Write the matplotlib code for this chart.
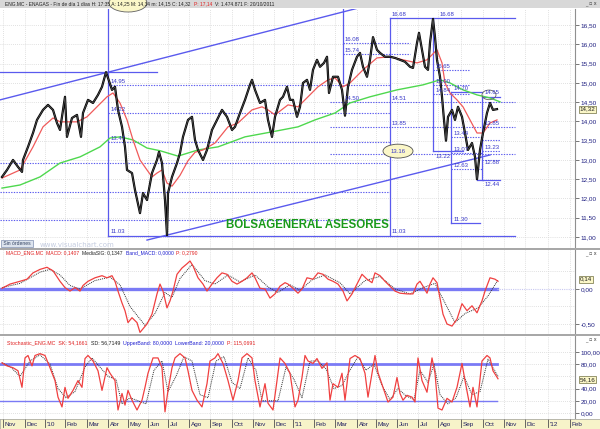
import matplotlib
matplotlib.use("Agg")
import matplotlib.pyplot as plt
from matplotlib.patches import Ellipse, Rectangle

# x values are bar numbers (one trading day per bar, Nov 2009 .. Oct 2011)
price_bar = [2, 7, 13, 18, 22, 23, 28, 33, 37, 43, 48, 53, 57, 60, 63, 65, 67, 72, 77, 81,
             83, 88, 93, 98, 102, 106, 108, 112, 115, 118, 122, 125, 127, 132, 135, 140, 143, 147, 152, 157,
             159, 162, 165, 167, 168, 172, 177, 180, 183, 188, 192, 195, 198, 203, 207, 212, 217, 222, 227, 232,
             235, 240, 245, 250, 252, 255, 260, 265, 268, 272, 275, 280, 283, 287, 290, 293, 297, 300, 303, 307,
             310, 313, 317, 320, 324, 327, 329, 333, 338, 342, 345, 348, 352, 357, 360, 363, 367, 370, 373, 377,
             380, 385, 390, 395, 400, 405, 410, 413, 417, 419, 422, 425, 428, 430, 433, 435, 437, 440, 442, 444,
             446, 448, 452, 455, 458, 462, 465, 468, 472, 475, 477, 480, 483, 487, 490, 493, 497]
price_close = [12.56, 12.74, 13.00, 12.82, 12.69, 13.00, 13.34, 13.70, 14.04, 14.30, 14.43, 14.30, 13.96, 13.78, 14.30, 14.64, 13.60, 14.09, 14.17, 13.60,
               14.22, 14.56, 14.48, 14.69, 14.90, 15.28, 15.13, 14.82, 14.90, 14.30, 13.86, 13.34, 12.74, 12.66, 12.22, 11.62, 12.14, 11.96, 12.66, 13.00,
               13.21, 12.92, 11.96, 11.05, 12.14, 12.56, 12.92, 13.18, 13.60, 14.04, 14.12, 13.52, 13.26, 13.00, 13.26, 13.78, 14.04, 14.30, 14.12, 13.78,
               13.86, 14.22, 14.56, 14.95, 15.08, 14.82, 14.48, 14.56, 14.04, 13.60, 14.12, 14.56, 14.64, 14.90, 14.56, 14.56, 14.12, 14.38, 15.00, 15.08,
               14.82, 15.34, 15.60, 15.42, 15.52, 15.68, 14.74, 15.16, 15.16, 14.82, 14.15, 14.90, 15.34, 15.68, 15.78, 15.42, 15.16, 15.60, 16.19, 15.86,
               15.78, 15.68, 15.68, 15.65, 15.60, 15.55, 15.42, 15.39, 16.04, 16.30, 15.86, 15.42, 15.34, 16.04, 16.66, 16.19, 15.60, 15.16, 14.64, 14.04,
               13.50, 14.12, 14.30, 14.04, 14.38, 14.12, 13.70, 13.26, 13.44, 13.08, 12.50, 13.26, 13.70, 14.22, 14.48, 14.30, 14.32]

red_bar = [2, 20, 33, 43, 53, 60, 67, 77, 87, 97, 107, 113, 120, 127, 133, 140, 147, 152, 157, 162,
           167, 172, 180, 188, 195, 203, 215, 228, 238, 252, 262, 268, 275, 288, 298, 308, 318, 328, 335, 343,
           350, 363, 377, 390, 403, 417, 427, 437, 442, 445, 450, 457, 463, 470, 477, 483, 490, 497]
red_ma = [12.53, 12.74, 13.34, 13.86, 14.09, 13.99, 13.99, 13.99, 14.12, 14.38, 14.64, 14.74, 14.48, 14.04, 13.52, 13.00, 12.74, 12.56, 12.66, 12.74,
          12.40, 12.32, 12.60, 12.98, 13.20, 13.26, 13.44, 13.86, 13.96, 14.30, 14.38, 14.30, 14.17, 14.43, 14.38, 14.64, 14.90, 15.08, 15.13, 14.90,
          15.00, 15.34, 15.65, 15.68, 15.60, 15.52, 15.60, 15.86, 15.52, 15.00, 14.74, 14.56, 14.38, 14.04, 13.70, 13.70, 13.96, 14.04]

green_bar = [2, 20, 40, 60, 80, 100, 110, 120, 133, 147, 160, 178, 198, 218, 245, 272, 298, 315, 335, 350,
             370, 397, 423, 440, 450, 463, 477, 490, 500]
green_ma = [12.27, 12.35, 12.56, 12.92, 13.08, 13.34, 13.57, 13.60, 13.52, 13.31, 13.24, 13.10, 13.26, 13.34, 13.60, 13.73, 13.86, 14.04, 14.22, 14.48,
            14.64, 14.82, 14.95, 15.08, 15.00, 14.82, 14.69, 14.61, 14.51]

macd_bar = [2, 10, 20, 27, 33, 40, 47, 53, 60, 65, 70, 75, 80, 83, 88, 95, 102, 107, 112, 115,
            118, 122, 125, 128, 132, 137, 140, 147, 152, 157, 160, 163, 167, 170, 173, 177, 182, 187, 190, 193,
            198, 203, 207, 212, 217, 222, 227, 232, 237, 242, 247, 252, 255, 260, 265, 270, 275, 280, 285, 288,
            293, 298, 302, 307, 313, 318, 323, 328, 333, 338, 343, 347, 352, 357, 362, 367, 372, 375, 380, 385,
            390, 395, 400, 407, 413, 417, 420, 423, 427, 430, 433, 437, 440, 443, 447, 452, 457, 462, 467, 472,
            477, 482, 485, 490, 495, 498]
macd_line = [0.01, 0.07, 0.11, 0.14, 0.23, 0.28, 0.31, 0.26, 0.11, 0.02, -0.03, 0.02, -0.03, 0.05, 0.11, 0.16, 0.19, 0.16, 0.19, 0.11,
             -0.03, -0.20, -0.31, -0.48, -0.41, -0.48, -0.62, -0.50, -0.36, -0.07, 0.07, -0.03, -0.27, -0.17, -0.03, 0.21, 0.30, 0.36, 0.40, 0.33,
             0.16, 0.07, -0.03, 0.07, 0.16, 0.23, 0.21, 0.11, 0.07, 0.11, 0.16, 0.23, 0.16, 0.01, 0.00, -0.13, -0.07, 0.04, 0.09, 0.07,
             0.01, -0.06, 0.00, 0.16, 0.14, 0.23, 0.21, 0.14, 0.11, 0.07, -0.03, -0.17, -0.07, 0.07, 0.21, 0.14, 0.09, 0.23, 0.19, 0.11,
             0.04, -0.03, -0.06, -0.07, -0.07, 0.07, 0.11, 0.04, -0.06, 0.07, 0.16, 0.09, -0.13, -0.36, -0.50, -0.53, -0.43, -0.21, -0.31, -0.24,
             -0.34, -0.17, -0.03, 0.16, 0.14, 0.11]

signal_bar = [2, 20, 40, 50, 60, 70, 80, 95, 110, 120, 130, 145, 155, 165, 172, 180, 192, 205, 215, 228,
              240, 255, 268, 278, 290, 300, 312, 325, 340, 350, 365, 380, 395, 410, 425, 435, 445, 455, 465, 478,
              488, 498]
signal_line = [0.02, 0.08, 0.24, 0.28, 0.20, 0.05, 0.00, 0.12, 0.17, 0.06, -0.25, -0.52, -0.35, -0.05, -0.12, 0.15, 0.35, 0.12, 0.07, 0.20,
               0.10, 0.20, 0.03, -0.05, 0.06, -0.02, 0.13, 0.20, 0.09, -0.07, 0.12, 0.18, 0.00, -0.07, 0.03, 0.08, -0.20, -0.48, -0.35, -0.27,
               -0.10, 0.13]

stoch_bar = [2, 7, 13, 18, 22, 25, 28, 32, 35, 40, 45, 50, 55, 58, 62, 65, 68, 73, 78, 82,
             85, 88, 93, 98, 102, 107, 110, 115, 118, 122, 125, 128, 132, 137, 142, 145, 148, 153, 158, 162,
             165, 168, 172, 175, 180, 185, 188, 192, 197, 202, 207, 210, 215, 218, 223, 228, 233, 238, 242, 247,
             252, 255, 260, 265, 268, 273, 277, 280, 285, 290, 295, 298, 302, 305, 308, 313, 317, 322, 327, 330,
             333, 338, 342, 345, 350, 355, 360, 365, 368, 372, 375, 378, 383, 388, 393, 397, 400, 403, 407, 412,
             415, 418, 422, 427, 432, 435, 438, 442, 447, 452, 457, 462, 465, 470, 473, 477, 482, 487, 490, 493,
             498]
stoch_k = [82, 77, 74, 69, 42, 90, 94, 77, 94, 97, 94, 74, 53, 26, 10, 42, 24, 37, 53, 42,
           89, 94, 85, 69, 37, 74, 65, 53, 5, 32, 13, 37, 21, 5, 21, 42, 65, 90, 90, 74,
           2, 37, 74, 90, 97, 90, 69, 37, 21, 10, 48, 85, 90, 97, 81, 53, 21, 53, 90, 97,
           90, 53, 10, 48, 16, 5, 53, 90, 81, 65, 10, 21, 58, 94, 85, 81, 89, 73, 82, 21,
           48, 42, 65, 21, 89, 94, 89, 65, 26, 65, 94, 66, 42, 18, 26, 58, 32, 21, 29, 26,
           18, 90, 53, 34, 90, 65, 8, 5, 24, 18, 42, 81, 53, 10, 42, 10, 85, 94, 90, 69,
           56]

stoch_d_bar = [2, 10, 20, 30, 40, 50, 58, 66, 75, 85, 92, 100, 108, 116, 122, 130, 138, 146, 154, 162,
               168, 176, 184, 192, 200, 208, 216, 224, 232, 240, 248, 256, 262, 270, 278, 286, 294, 302, 310, 318,
               326, 334, 342, 350, 358, 366, 374, 382, 390, 398, 406, 414, 420, 428, 434, 440, 448, 456, 464, 472,
               480, 488, 498]
stoch_d = [82, 76, 60, 85, 95, 80, 40, 25, 35, 75, 90, 75, 60, 55, 15, 25, 20, 15, 70, 85,
           35, 60, 92, 85, 30, 25, 85, 92, 50, 40, 90, 70, 20, 20, 20, 75, 55, 25, 85, 85,
           72, 40, 45, 70, 92, 70, 80, 45, 22, 40, 28, 22, 70, 50, 80, 30, 15, 25, 60, 30,
           35, 88, 60]

month_bar = [3, 25, 45, 65, 87, 108, 128, 148, 168, 189, 210, 232, 253, 274, 293, 314,
             335, 357, 376, 397, 418, 438, 461, 483, 504, 525, 548, 570]
month_label = ["Nov", "Dec", "'10", "Feb", "Mar", "Abr", "May", "Jun", "Jul", "Ago", "Sep", "Oct", "Nov", "Dec",
               "'11", "Feb", "Mar", "Abr", "May", "Jun", "Jul", "Ago", "Sep", "Oct", "Nov", "Dic", "'12", "Feb"]

price_ticks = [11.0, 11.5, 12.0, 12.5, 13.0, 13.5, 14.0, 14.5, 15.0, 15.5, 16.0, 16.5]
macd_ticks = [-0.5, 0.0]
stoch_ticks = [0, 20, 40, 80, 100]

BLUE = "#5a5aee"
LABEL_BLUE = "#3838c8"
AXIS_TEXT = "#1e1e80"
GRID = "#d6d6d6"
FONT = "Liberation Sans"
W, H = 600, 429


def box(x0, y0, x1, y1):
    return [x0 / W, 1 - y1 / H, (x1 - x0) / W, (y1 - y0) / H]


def style_panel(ax, ticks, fmt):
    ax.set_xlim(0, 575)
    for s in ["top", "bottom", "left"]:
        ax.spines[s].set_visible(False)
    ax.spines["right"].set_color("#909090")
    ax.spines["right"].set_linewidth(0.8)
    ax.yaxis.tick_right()
    ax.set_yticks(ticks)
    ax.set_yticklabels([fmt(t) for t in ticks])
    ax.tick_params(axis="y", length=3, width=0.6, color="#606060", labelsize=4.6,
                   labelcolor=AXIS_TEXT, pad=1)
    for lbl in ax.get_yticklabels():
        lbl.set_family(FONT)
    ax.set_xticks([])
    for b in month_bar:
        ax.axvline(b, color=GRID, lw=0.6, ls=(0, (1, 1.5)), zorder=0)


def comma(v, dec=2):
    return f"{v:.{dec}f}".replace(".", ",")


def value_box(ax, y, text):
    ax.text(1.008, y, text, transform=ax.get_yaxis_transform(), fontsize=4.5, color="#202020",
            va="center", ha="left", family=FONT,
            bbox=dict(boxstyle="square,pad=0.15", fc="#fbf7c8", ec="#707040", lw=0.5))


def hline(ax, y, x0, x1, dotted=False, lw=0.9):
    ax.plot([x0, x1], [y, y], color=BLUE, lw=0.8 if dotted else lw,
            ls=(0, (1.2, 1.2)) if dotted else "-", zorder=3)


def vline(ax, x, y0, y1):
    ax.plot([x, x], [y0, y1], color=BLUE, lw=0.9, zorder=3)


def label(ax, x, y, text):
    ax.text(x, y, text, fontsize=4.3, color=LABEL_BLUE, zorder=6, family=FONT)


def text_runs(fig, x, y, runs, size):
    # header texts: pieces in different colours placed one after another
    r = fig.canvas.get_renderer()
    for s, c in runs:
        t = fig.text(x / W, 1 - y / H, s, fontsize=size, color=c, va="center", family=FONT)
        x += t.get_window_extent(r).width + 3


def draw_price(fig):
    ax = fig.add_axes(box(0, 9, 575, 248))
    style_panel(ax, price_ticks, comma)
    ax.set_ylim(10.714, 16.92)
    for t in price_ticks:
        ax.axhline(t, color=GRID, lw=0.6, ls=(0, (1, 1.5)), zorder=0)

    ax.plot(green_bar, green_ma, color="#4ed84e", lw=1.0, zorder=4)
    ax.plot(red_bar, red_ma, color="#f05a5a", lw=0.9, zorder=4)
    ax.plot(price_bar, price_close, color="black", lw=1.6, zorder=5)
    ax.plot(price_bar, price_close, color="#5a5a5a", lw=0.5, zorder=5)

    # channel lines
    ax.plot([0, 362], [14.56, 16.97], color=BLUE, lw=1.0, zorder=3)
    ax.plot([147, 490], [10.92, 13.13], color=BLUE, lw=1.0, zorder=3)

    # first retracement box
    hline(ax, 15.29, 0, 157)
    vline(ax, 108, 16.92, 11.03)
    hline(ax, 11.03, 108, 515)
    for lvl in [14.95, 14.22, 13.47]:
        hline(ax, lvl, 108, 390, dotted=True)
    for lvl in [12.92, 12.17, 11.44]:
        hline(ax, lvl, 0, 390, dotted=True)
    label(ax, 111, 15.0, "14.95")
    label(ax, 111, 14.27, "14.22")
    label(ax, 111, 13.52, "13.47")
    label(ax, 111, 11.1, "11.03")

    # second retracement box
    vline(ax, 343, 16.92, 15.0)
    hline(ax, 16.04, 343, 410, dotted=True)
    hline(ax, 15.75, 343, 410, dotted=True)
    label(ax, 345, 16.1, "16.08")
    label(ax, 345, 15.8, "15.74")
    hline(ax, 16.68, 390, 515)
    vline(ax, 390, 16.68, 11.03)
    label(ax, 392, 16.74, "16.68")
    label(ax, 440, 16.74, "16.68")
    for lvl in [14.51, 13.85, 13.16]:
        hline(ax, lvl, 330, 515, dotted=True)
    label(ax, 345, 14.56, "14.50")
    label(ax, 392, 14.56, "14.51")
    label(ax, 392, 13.9, "13.85")
    ax.add_patch(Ellipse((398, 13.23), 30, 0.36, fc="#fbf7c8", ec="#505050", lw=0.6, zorder=6))
    ax.text(398, 13.23, "13.16", fontsize=4.3, color=LABEL_BLUE, ha="center", va="center", zorder=7,
            family=FONT)
    label(ax, 392, 11.1, "11.03")

    # third box
    vline(ax, 433, 16.68, 13.22)
    hline(ax, 13.22, 433, 463)
    for lvl in [15.34, 14.95, 14.71]:
        hline(ax, lvl, 433, 470, dotted=True)
    label(ax, 436, 15.4, "15.65")
    label(ax, 436, 15.0, "15.00")
    label(ax, 436, 14.76, "14.84")
    label(ax, 436, 13.05, "13.22")

    # fourth box
    hline(ax, 14.77, 451, 482)
    vline(ax, 451, 14.77, 11.36)
    hline(ax, 11.36, 451, 480)
    for lvl in [13.60, 13.17, 12.77]:
        hline(ax, lvl, 451, 482, dotted=True)
    label(ax, 454, 14.82, "14.70")
    label(ax, 454, 13.65, "13.44")
    label(ax, 454, 13.22, "13.07")
    label(ax, 454, 12.82, "12.63")
    label(ax, 454, 11.42, "11.30")

    # fifth box
    hline(ax, 14.64, 482, 500)
    vline(ax, 482, 14.64, 12.48)
    hline(ax, 12.48, 477, 500)
    for lvl in [13.85, 13.53, 13.23, 13.0]:
        hline(ax, lvl, 482, 500, dotted=True)
    ax.add_patch(Ellipse((489, 14.69), 14, 0.25, fc="none", ec="#606060", lw=0.6, zorder=6))
    label(ax, 485, 14.7, "14.65")
    label(ax, 485, 13.9, "13.85")
    label(ax, 485, 13.28, "13.23")
    label(ax, 485, 12.9, "12.88")
    label(ax, 485, 12.32, "12.44")

    ax.text(307, 11.3, "BOLSAGENERAL ASESORES", fontsize=8.3, color="#1a9a1a", weight="bold",
            ha="center", va="center", family=FONT, zorder=7)
    ax.text(2, 10.83, " Sin órdenes ", fontsize=3.6, color="#304060", va="center", zorder=7, family=FONT,
            bbox=dict(boxstyle="square,pad=0.2", fc="#dde4ee", ec="#8090b0", lw=0.5))
    ax.text(40, 10.79, "www.visualchart.com", fontsize=5, color="#c4cce0", va="center", zorder=2)
    value_box(ax, 14.32, "14,32")


def draw_macd(fig):
    ax = fig.add_axes(box(0, 250, 575, 334))
    style_panel(ax, macd_ticks, comma)
    ax.set_ylim(-0.643, 0.557)
    for t in [-0.5, -0.25, 0.25]:
        ax.axhline(t, color=GRID, lw=0.6, ls=(0, (1, 1.5)), zorder=0)
    ax.plot([0, 497], [0, 0], color="#7a7af5", lw=2.4, zorder=2)
    ax.plot([497, 575], [0, 0], color="#c8c8f0", lw=0.8, ls=(0, (1, 1)), zorder=2)
    ax.plot(signal_bar, signal_line, color="#303030", lw=0.7, ls=(0, (1, 1)), zorder=3)
    ax.plot(macd_bar, macd_line, color="#f04040", lw=0.9, zorder=4)
    value_box(ax, 0.14, "0,14")
    text_runs(fig, 6, 253, [("MACD_ENG.MC  MACD: 0,1407", "#e02020"),
                            ("MediaSIG: 0,1347", "#202020"),
                            ("Band_MACD: 0,0000", "#2020d0"),
                            ("P: 0,2790", "#e02020")], 3.6)


def draw_stoch(fig):
    ax = fig.add_axes(box(0, 336, 575, 419))
    style_panel(ax, stoch_ticks, comma)
    ax.set_ylim(-9.7, 125.8)
    for t in [0, 20, 40, 60, 80, 100]:
        ax.axhline(t, color=GRID, lw=0.6, ls=(0, (1, 1.5)), zorder=0)
    ax.plot([0, 497], [80, 80], color="#7a7af5", lw=2.0, zorder=2)
    ax.plot([0, 497], [20, 20], color="#7a7af5", lw=1.0, zorder=2)
    ax.plot(stoch_d_bar, stoch_d, color="#303030", lw=0.7, ls=(0, (1, 1)), zorder=3)
    ax.plot(stoch_bar, stoch_k, color="#f04040", lw=0.9, zorder=4)
    value_box(ax, 54.16, "54,16")
    text_runs(fig, 7, 343, [("Stochastic_ENG.MC  SK: 54,1661", "#e02020"),
                            ("SD: 56,7149", "#202020"),
                            ("UpperBand: 80,0000", "#2020d0"),
                            ("LowerBand: 20,0000", "#2020d0"),
                            ("P: 115,0691", "#e02020")], 3.8)


def draw_dates(fig):
    ax = fig.add_axes(box(0, 419, 600, 429))
    ax.set_facecolor("#f7f3c9")
    ax.set_xlim(0, 600)
    ax.set_ylim(0, 1)
    ax.set_xticks([])
    ax.set_yticks([])
    for s in ax.spines.values():
        s.set_color("#a0a0a0")
        s.set_linewidth(0.5)
    for b, t in zip(month_bar, month_label):
        ax.plot([b, b], [0.2, 1], color="#505050", lw=0.6)
        ax.text(b + 1.5, 0.45, t, fontsize=4.6, color="#202060", va="center", family=FONT)


def draw_frame(fig):
    fig.patches.append(Rectangle((0, 1 - 8 / H), 1, 8 / H, transform=fig.transFigure,
                                 fc="#d8d8d8", ec="none", zorder=0))
    for y in [248, 334]:
        fig.patches.append(Rectangle((0, 1 - (y + 2) / H), 1, 2 / H, transform=fig.transFigure,
                                     fc="#a8a8a8", ec="none", zorder=0))
    # arc under the title bar
    fig.patches.append(Ellipse((128 / W, 1 - 3 / H), 38 / W, 18 / H, transform=fig.transFigure,
                               fc="#fbf7c8", ec="#606060", lw=0.6, zorder=1))
    text_runs(fig, 5, 4, [("ENG.MC - ENAGAS - Fin de día 1 días H: 17:35 A: 14,25 M: 14,34 m: 14,15 C: 14,32",
                           "#202020"),
                          ("P: 17,14", "#e02020"),
                          ("V: 1.474.871 F: 20/10/2011", "#202020")], 3.5)
    for yy in [0, 250, 336]:
        fig.text(597 / W, 1 - (yy + 4) / H, "_ ▫ x", fontsize=3.5, color="#404040", ha="right", va="center")


def main():
    fig = plt.figure(figsize=(6, 4.29), dpi=100)
    fig.patch.set_facecolor("white")
    draw_frame(fig)
    draw_price(fig)
    draw_macd(fig)
    draw_stoch(fig)
    draw_dates(fig)
    fig.savefig("out.png", dpi=100)


if __name__ == "__main__":
    main()
